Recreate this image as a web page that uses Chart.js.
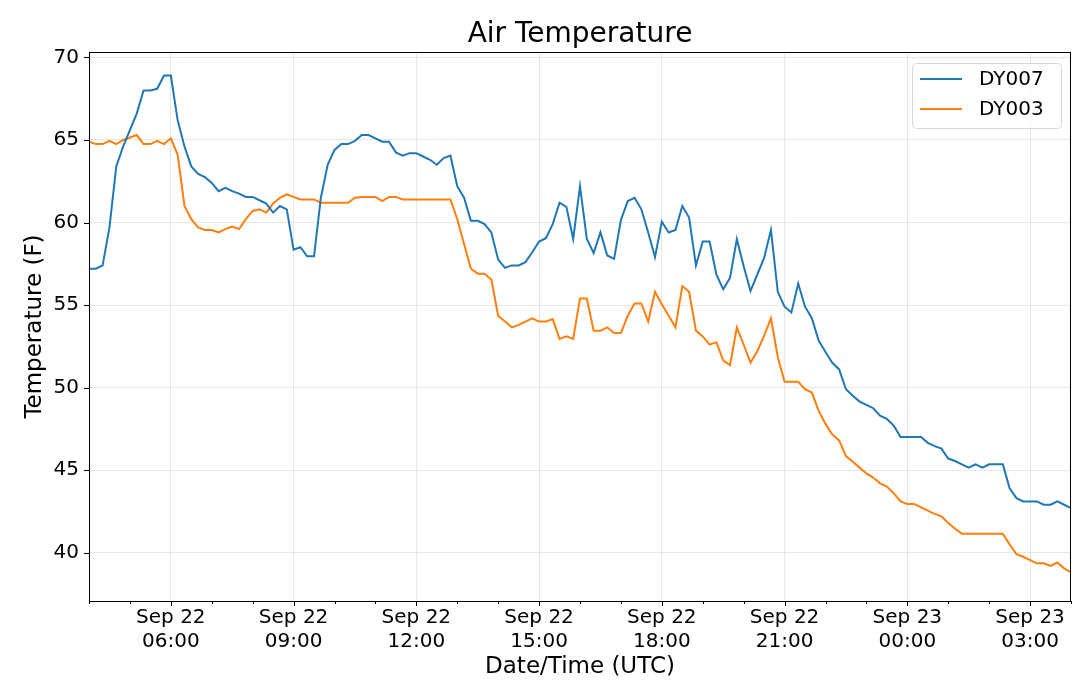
<!DOCTYPE html>
<html>
<head>
<meta charset="utf-8">
<script src="https://cdn.jsdelivr.net/npm/chart.js@4.4.0/dist/chart.umd.min.js"></script>
<style>
  html, body { margin: 0; padding: 0; background: #fff; }
</style>
</head>
<body>
<canvas id="airChart" width="1080" height="693"></canvas>
<script>
// samples every 10 minutes starting Sep 22 04:00 UTC
var startHour = 4;
var stepMinutes = 10;
var seriesNames = ['DY007', 'DY003'];
var seriesColors = ['#1f77b4', '#ff7f0e'];
var yTickValues = [40, 45, 50, 55, 60, 65, 70];

var dy007 = [
    57.2, 57.2, 57.4, 59.7, 63.4, 64.6, 65.6, 66.6, 68.0, 68.0, 68.1, 68.9,
    68.9, 66.2, 64.6, 63.4, 62.95, 62.75, 62.4, 61.9, 62.1, 61.9, 61.75, 61.55,
    61.55, 61.35, 61.15, 60.6, 61.0, 60.8, 58.35, 58.5, 57.95, 57.95, 61.5, 63.5,
    64.4, 64.75, 64.75, 64.95, 65.3, 65.3, 65.1, 64.9, 64.9, 64.25, 64.05, 64.2,
    64.2, 64.0, 63.8, 63.5, 63.9, 64.05, 62.2, 61.5, 60.1, 60.1, 59.9, 59.4,
    57.75, 57.25, 57.4, 57.4, 57.6, 58.2, 58.85, 59.05, 59.9, 61.2, 60.95, 59.0,
    62.2, 59.0, 58.15, 59.4, 58.0, 57.8, 60.15, 61.3, 61.5, 60.8, 59.4, 57.9,
    60.05, 59.4, 59.55, 61.0, 60.3, 57.4, 58.85, 58.85, 56.85, 55.95, 56.65, 59.0,
    57.35, 55.85, 56.85, 57.85, 59.55, 55.8, 54.9, 54.55, 56.3, 54.9, 54.2, 52.85,
    52.15, 51.5, 51.1, 49.9, 49.5, 49.15, 48.95, 48.75, 48.3, 48.1, 47.7, 47.0,
    47.0, 47.0, 47.0, 46.65, 46.45, 46.3, 45.7, 45.55, 45.35, 45.15, 45.35, 45.15,
    45.35, 45.35, 45.35, 43.9, 43.3, 43.1, 43.1, 43.1, 42.9, 42.9, 43.1, 42.9,
    42.7
];

var dy003 = [
    64.9, 64.75, 64.75, 64.95, 64.75, 65.0, 65.15, 65.3, 64.75, 64.75, 64.95, 64.75,
    65.1, 64.1, 61.0, 60.2, 59.7, 59.55, 59.55, 59.4, 59.6, 59.75, 59.6, 60.2,
    60.7, 60.8, 60.6, 61.15, 61.5, 61.7, 61.55, 61.4, 61.4, 61.4, 61.2, 61.2,
    61.2, 61.2, 61.2, 61.5, 61.55, 61.55, 61.55, 61.3, 61.55, 61.55, 61.4, 61.4,
    61.4, 61.4, 61.4, 61.4, 61.4, 61.4, 60.2, 58.7, 57.2, 56.9, 56.9, 56.55,
    54.35, 54.0, 53.65, 53.8, 54.0, 54.2, 54.0, 54.0, 54.15, 52.95, 53.1, 52.95,
    55.4, 55.4, 53.45, 53.45, 53.65, 53.3, 53.3, 54.35, 55.1, 55.1, 54.0, 55.8,
    55.05, 54.35, 53.65, 56.15, 55.8, 53.45, 53.1, 52.6, 52.75, 51.65, 51.35, 53.65,
    52.6, 51.5, 52.2, 53.15, 54.2, 51.85, 50.35, 50.35, 50.35, 49.9, 49.7, 48.6,
    47.8, 47.15, 46.8, 45.85, 45.5, 45.15, 44.8, 44.55, 44.2, 44.0, 43.6, 43.1,
    42.95, 42.95, 42.75, 42.55, 42.35, 42.2, 41.8, 41.45, 41.15, 41.15, 41.15, 41.15,
    41.15, 41.15, 41.15, 40.5, 39.9, 39.75, 39.55, 39.35, 39.35, 39.2, 39.4, 39.05,
    38.8
];

var gridColor = 'rgba(176, 176, 176, 0.3)';

function toPoints(values) {
    return values.map(function (v, i) {
        return { x: i * stepMinutes / 60, y: v };
    });
}

function isLabelledHour(value) {
    return (startHour + value) % 3 === 0;
}

Chart.defaults.font.family = "'DejaVu Sans', sans-serif";
Chart.defaults.color = '#000';

// axis box, tick marks and a matplotlib-like legend
var framePlugin = {
    id: 'frame',
    afterDatasetsDraw: function (chart) {
        var ctx = chart.ctx;
        var ca = chart.chartArea;
        var xs = chart.scales.x;
        var ys = chart.scales.y;
        ctx.save();
        ctx.strokeStyle = '#000';
        ctx.lineWidth = 1;
        ctx.strokeRect(ca.left + 0.5, ca.top + 0.5, ca.right - ca.left - 1, ca.bottom - ca.top);
        ctx.beginPath();
        xs.ticks.forEach(function (t) {
            var px = Math.round(xs.getPixelForValue(t.value)) + 0.5;
            var len = isLabelledHour(t.value) ? 5 : 3;
            ctx.moveTo(px, ca.bottom);
            ctx.lineTo(px, ca.bottom + len);
        });
        ys.ticks.forEach(function (t) {
            var py = Math.round(ys.getPixelForValue(t.value)) + 0.5;
            ctx.moveTo(ca.left, py);
            ctx.lineTo(ca.left - 5, py);
        });
        ctx.stroke();

        // legend
        var boxW = 149, boxH = 65;
        var bx = ca.right - 10 - boxW;
        var by = ca.top + 11;
        ctx.beginPath();
        if (ctx.roundRect) {
            ctx.roundRect(bx + 0.5, by + 0.5, boxW, boxH, 4);
        } else {
            ctx.rect(bx + 0.5, by + 0.5, boxW, boxH);
        }
        ctx.fillStyle = 'rgba(255,255,255,0.8)';
        ctx.fill();
        ctx.strokeStyle = '#d6d6d6';
        ctx.stroke();
        ctx.font = "20px 'DejaVu Sans', sans-serif";
        ctx.textBaseline = 'middle';
        ctx.textAlign = 'left';
        chart.data.datasets.forEach(function (ds, k) {
            var ly = by + 16 + k * 30;
            ctx.beginPath();
            ctx.strokeStyle = ds.borderColor;
            ctx.lineWidth = 2;
            ctx.moveTo(bx + 8, ly);
            ctx.lineTo(bx + 50, ly);
            ctx.stroke();
            ctx.fillStyle = '#000';
            ctx.fillText(ds.label, bx + 67, ly + 1);
        });
        ctx.restore();
    }
};

var ctx = document.getElementById('airChart').getContext('2d');
var airChart = new Chart(ctx, {
    type: 'line',
    data: {
        datasets: [{
            label: seriesNames[0],
            data: toPoints(dy007),
            borderColor: seriesColors[0],
            borderWidth: 2,
            pointRadius: 0,
            tension: 0,
            fill: false
        }, {
            label: seriesNames[1],
            data: toPoints(dy003),
            borderColor: seriesColors[1],
            borderWidth: 2,
            pointRadius: 0,
            tension: 0,
            fill: false
        }]
    },
    options: {
        responsive: false,
        animation: false,
        devicePixelRatio: 1,
        layout: { padding: { left: 0, right: 9, top: 0, bottom: 0 } },
        plugins: {
            legend: { display: false },
            tooltip: { enabled: false },
            title: {
                display: true,
                fullSize: false,
                text: 'Air Temperature',
                font: { size: 28, weight: 'normal' },
                color: '#000',
                padding: { top: 18, bottom: 0.4 }
            }
        },
        scales: {
            x: {
                type: 'linear',
                min: 0,
                max: 24,
                afterFit: function (scale) { scale.height = 92; },
                ticks: {
                    stepSize: 1,
                    autoSkip: false,
                    maxRotation: 0,
                    padding: 5,
                    font: { size: 20 },
                    color: '#000',
                    callback: function (value) {
                        if (!isLabelledHour(value)) {
                            return '';
                        }
                        var h = startHour + value;
                        var day = h < 24 ? 'Sep 22' : 'Sep 23';
                        var hh = h % 24;
                        return [day, (hh < 10 ? '0' : '') + hh + ':00'];
                    }
                },
                grid: {
                    drawTicks: false,
                    color: function (c) {
                        return c.tick && isLabelledHour(c.tick.value) ? gridColor : 'rgba(0,0,0,0)';
                    }
                },
                border: { display: true, color: '#000' },
                title: {
                    display: true,
                    text: 'Date/Time (UTC)',
                    font: { size: 23 },
                    color: '#000',
                    padding: { top: 0, bottom: 12 }
                }
            },
            y: {
                min: 37.07,
                max: 70.33,
                afterFit: function (scale) { scale.width = 89; },
                afterBuildTicks: function (scale) {
                    scale.ticks = yTickValues.map(function (v) { return { value: v }; });
                },
                ticks: {
                    padding: 10,
                    font: { size: 20 },
                    color: '#000'
                },
                grid: {
                    drawTicks: false,
                    color: gridColor
                },
                border: { display: true, color: '#000' },
                title: {
                    display: true,
                    text: 'Temperature (F)',
                    font: { size: 23 },
                    color: '#000',
                    padding: { top: 21, bottom: 0 }
                }
            }
        }
    },
    plugins: [framePlugin]
});
</script>
</body>
</html>
